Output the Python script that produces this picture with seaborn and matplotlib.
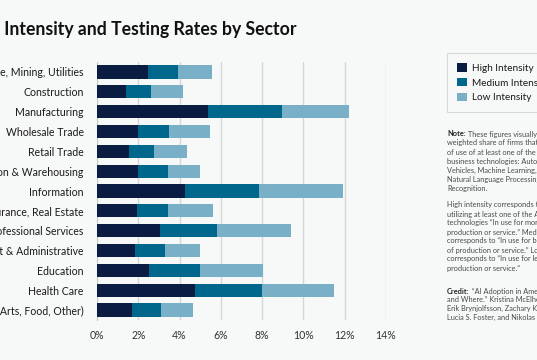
import pandas as pd
import matplotlib
matplotlib.use('Agg')
import matplotlib.pyplot as plt
from matplotlib.patches import Patch
import seaborn as sns

# values (% of firms)
sectors = ['Agriculture, Mining, Utilities', 'Construction', 'Manufacturing', 'Wholesale Trade',
           'Retail Trade', 'Transportation & Warehousing', 'Information',
           'Finance, Insurance, Real Estate', 'Professional Services',
           'Management & Administrative', 'Education', 'Health Care',
           'Other Services (Arts, Food, Other)']
high = [2.49, 1.39, 5.37, 1.99, 1.57, 1.99, 4.24, 1.94, 3.07, 1.84, 2.51, 4.76, 1.71]
medium = [1.41, 1.25, 3.60, 1.52, 1.21, 1.47, 3.61, 1.49, 2.76, 1.46, 2.49, 3.25, 1.40]
low = [1.67, 1.52, 3.23, 1.94, 1.60, 1.55, 4.09, 2.19, 3.57, 1.71, 3.02, 3.49, 1.56]
xticks = [0, 2, 4, 6, 8, 10, 12, 14]
series = ['High Intensity', 'Medium Intensity', 'Low Intensity']

colors = ['#0b1c42', '#00678c', '#79b0c8']
bg = '#f7f8f8'

df = pd.DataFrame({'sector': sectors, 'high': high, 'medium': medium, 'low': low})
df['cum_med'] = df['high'] + df['medium']
df['total'] = df['cum_med'] + df['low']

sns.set_style('white')
plt.rcParams['font.family'] = ['Lato', 'DejaVu Sans']

fig = plt.figure(figsize=(5.37, 3.6), dpi=100, facecolor=bg)
ax = fig.add_axes([97 / 537, 1 - 320 / 360, 289 / 537, 258 / 360])
ax.set_facecolor(bg)

# stack by drawing totals first, then overlaying the partial sums
for col, c in zip(['total', 'cum_med', 'high'], [colors[2], colors[1], colors[0]]):
    sns.barplot(data=df, y='sector', x=col, orient='h', color=c, saturation=1,
                width=0.67, ax=ax, linewidth=0, zorder=3)

ax.set_xlim(0, 14)
ax.set_xticks(xticks)
ax.set_xticklabels([f'{t}%' for t in xticks])
ax.set_xlabel('')
ax.set_ylabel('')
ax.grid(axis='x', color='#d4d6d8', lw=1, zorder=0)
ax.set_axisbelow(True)
for s in ['top', 'right', 'bottom']:
    ax.spines[s].set_visible(False)
ax.spines['left'].set_color('#c8cacc')
ax.tick_params(axis='y', length=0, pad=9.5, labelsize=7.6, labelcolor='#1a1a1a')
ax.tick_params(axis='x', length=0, pad=7, labelsize=7.6, labelcolor='#333333')

fig.text(297 / 537, 1 - 29 / 360, 'AI Use Intensity and Testing Rates by Sector',
         ha='right', va='center', fontsize=12.7, fontweight='bold', color='#111111')

handles = [Patch(facecolor=c, edgecolor='none', label=l) for c, l in zip(colors, series)]
leg = fig.legend(handles=handles, loc='upper left', bbox_to_anchor=(447 / 537, 1 - 53 / 360),
                 frameon=True, fontsize=7.2, handlelength=0.95, handleheight=0.95,
                 handletextpad=0.55, labelspacing=0.5, borderpad=1.0, borderaxespad=0,
                 fancybox=False)
leg.get_frame().set_facecolor(bg)
leg.get_frame().set_edgecolor('#cfd1d3')
leg.get_frame().set_linewidth(0.8)
for t in leg.get_texts():
    t.set_color('#1a1a1a')

note_lines = [
    ('Note:', ' These figures visually represent the', 134),
    ('', 'weighted share of firms that report some level', 143),
    ('', 'of use of at least one of the following AI-related', 152.5),
    ('', 'business technologies: Autonomous', 161.5),
    ('', 'Vehicles, Machine Learning, Machine Vision,', 170.5),
    ('', 'Natural Language Processing, and Voice', 179.5),
    ('', 'Recognition.', 188.5),
    ('', 'High intensity corresponds to firms', 205),
    ('', 'utilizing at least one of the AI-related', 214),
    ('', 'technologies \u201cIn use for more than 25% of', 223),
    ('', 'production or service.\u201d Medium intensity', 232),
    ('', 'corresponds to \u201cIn use for between 5%-25%', 241),
    ('', 'of production or service.\u201d Low intensity', 250),
    ('', 'corresponds to \u201cIn use for less than 5% of', 259),
    ('', 'production or service.\u201d', 268),
    ('Credit:', ' \u201cAI Adoption in America: Who, What,', 291),
    ('', 'and Where.\u201d Kristina McElheran, J. Frank Li,', 299.5),
    ('', 'Erik Brynjolfsson, Zachary Kroff, Emin Dinlersoz,', 308.5),
    ('', 'Lucia S. Foster, and Nikolas Zolas', 317),
]
renderer = fig.canvas.get_renderer()
x0 = 447
for bold, rest, y in note_lines:
    x = x0
    if bold:
        t = fig.text(x / 537, 1 - y / 360, bold, ha='left', va='center', fontsize=5.3,
                     fontweight='bold', color='#222222')
        x += t.get_window_extent(renderer).width
    fig.text(x / 537, 1 - y / 360, rest, ha='left', va='center', fontsize=5.3, color='#4a4a4a')

fig.savefig('out.png', dpi=100, facecolor=bg)
